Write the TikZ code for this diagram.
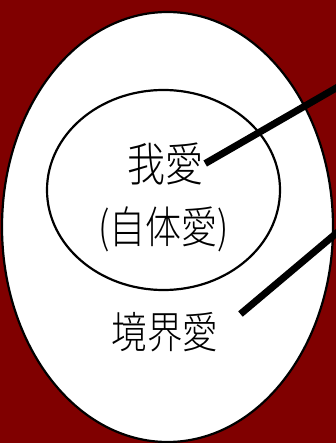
\documentclass[tikz,border=0pt]{standalone}
\usepackage{fontspec}
\usepackage{graphicx}
\newfontfamily\jpfont{Noto Sans CJK JP Light}
\newcommand{\tallcjk}[1]{\scalebox{1}[1.22]{#1}}
\usetikzlibrary{shapes.geometric}
\definecolor{bgred}{RGB}{128,0,0}

\begin{document}
\begin{tikzpicture}[
        x=1pt, y=-1pt,
        field/.style={ellipse, draw=black, fill=white, line width=2.2pt, inner sep=0pt},
        lovetext/.style={font=\jpfont, inner sep=0pt},
        pointer/.style={line width=7pt, draw=black}
    ]

        \fill[bgred] (0,0) rectangle (336,443);
        \useasboundingbox (0,0) rectangle (336,443);
        \clip (0,0) rectangle (336,443);

        \node[field, minimum width=331pt, minimum height=430pt] (outer) at (167.5,227) {};
        \node[field, minimum width=233pt, minimum height=200pt] (inner) at (163.5,190) {};

        \node[lovetext] (self) at (165,163.5) {\fontsize{38}{40}\selectfont\tallcjk{我愛}};
        \node[lovetext] (selfsub) at (163.5,229) {\fontsize{36}{40}\selectfont\tallcjk{(自体愛)}};
        \node[lovetext] (bound) at (165,332) {\fontsize{35.5}{40}\selectfont\tallcjk{境界愛}};

        \coordinate (end1) at (350,80);
        \coordinate (end2) at (352,220);
        \draw[pointer] ([xshift=2pt]self.east) -- (end1);
        \draw[pointer] ([shift={(22,2)}]bound.north east) -- (end2);
    \end{tikzpicture}
\end{document}
